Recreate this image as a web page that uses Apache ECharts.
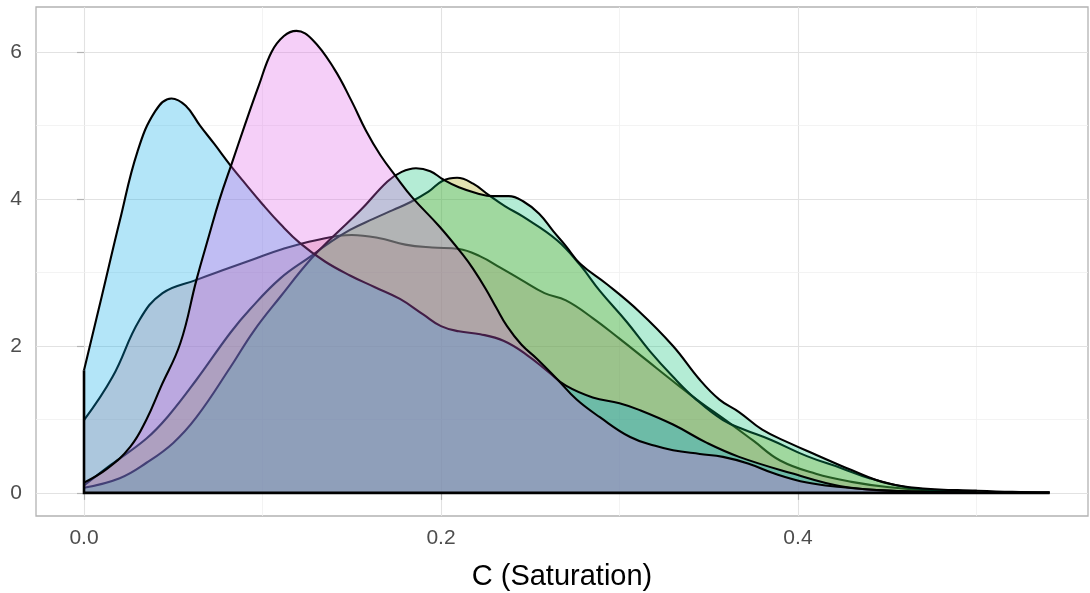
<!DOCTYPE html>
<html>
<head>
<meta charset="utf-8">
<script src="https://cdn.jsdelivr.net/npm/echarts@6.0.0/dist/echarts.min.js"></script>
<style>
  html, body { margin: 0; padding: 0; background: #ffffff; }
  #chart { width: 1090px; height: 593px; }
</style>
</head>
<body>
<div id="chart"></div>
<script>
// Density curves of C (Saturation), one per group, drawn in this order.
const roseX = [0, 0.016, 0.031, 0.044, 0.063, 0.08, 0.095, 0.11, 0.13, 0.15, 0.165, 0.18, 0.195, 0.21, 0.222, 0.233, 0.245, 0.258, 0.27, 0.285, 0.3, 0.315, 0.33, 0.345, 0.36, 0.375, 0.39, 0.41, 0.43, 0.45, 0.475, 0.5];
const roseY = [0.99, 1.58, 2.35, 2.72, 2.9, 3.05, 3.18, 3.31, 3.44, 3.51, 3.47, 3.38, 3.34, 3.32, 3.22, 3.07, 2.9, 2.72, 2.62, 2.38, 2.1, 1.81, 1.52, 1.24, 0.98, 0.71, 0.44, 0.26, 0.15, 0.08, 0.03, 0.01];

const oliveX = [0, 0.015, 0.035, 0.047, 0.063, 0.082, 0.093, 0.11, 0.127, 0.136, 0.149, 0.162, 0.173, 0.183, 0.193, 0.201, 0.209, 0.218, 0.227, 0.236, 0.246, 0.265, 0.278, 0.289, 0.304, 0.317, 0.33, 0.343, 0.358, 0.37, 0.385, 0.405, 0.424, 0.44, 0.46, 0.48, 0.5];
const oliveY = [0.1, 0.38, 0.74, 1.04, 1.54, 2.18, 2.5, 2.92, 3.22, 3.38, 3.58, 3.73, 3.85, 3.96, 4.1, 4.25, 4.29, 4.21, 4.05, 3.9, 3.76, 3.44, 3.1, 2.75, 2.33, 1.93, 1.58, 1.27, 0.99, 0.86, 0.72, 0.5, 0.34, 0.2, 0.08, 0.03, 0.01];

const mintX = [0, 0.02, 0.035, 0.05, 0.063, 0.082, 0.095, 0.11, 0.127, 0.14, 0.155, 0.17, 0.178, 0.186, 0.194, 0.201, 0.21, 0.22, 0.229, 0.238, 0.246, 0.255, 0.263, 0.27, 0.278, 0.293, 0.311, 0.33, 0.345, 0.356, 0.367, 0.38, 0.395, 0.41, 0.43, 0.45, 0.47, 0.5, 0.52, 0.541];
const mintY = [0.07, 0.2, 0.41, 0.68, 1.03, 1.71, 2.2, 2.67, 3.18, 3.5, 3.85, 4.24, 4.37, 4.42, 4.38, 4.27, 4.16, 4.08, 4.04, 4.04, 3.97, 3.8, 3.56, 3.36, 3.12, 2.84, 2.47, 2.0, 1.54, 1.27, 1.1, 0.86, 0.68, 0.52, 0.31, 0.13, 0.06, 0.03, 0.015, 0.008];

const skyX = [0, 0.01, 0.02, 0.03, 0.04, 0.049, 0.057, 0.065, 0.073, 0.082, 0.09, 0.1, 0.11, 0.121, 0.135, 0.149, 0.163, 0.177, 0.19, 0.2, 0.21, 0.222, 0.235, 0.248, 0.26, 0.27, 0.285, 0.3, 0.311, 0.33, 0.349, 0.367, 0.396, 0.424, 0.45, 0.48];
const skyY = [1.67, 2.68, 3.7, 4.65, 5.2, 5.37, 5.27, 5.0, 4.75, 4.46, 4.22, 3.93, 3.66, 3.4, 3.15, 2.96, 2.8, 2.64, 2.43, 2.27, 2.2, 2.16, 2.07, 1.88, 1.65, 1.46, 1.3, 1.22, 1.13, 0.93, 0.68, 0.49, 0.27, 0.09, 0.03, 0.01];

const orchidX = [0, 0.013, 0.026, 0.035, 0.043, 0.054, 0.063, 0.07, 0.076, 0.083, 0.09, 0.098, 0.105, 0.112, 0.119, 0.128, 0.14, 0.15, 0.158, 0.166, 0.175, 0.184, 0.199, 0.212, 0.218, 0.225, 0.231, 0.237, 0.245, 0.254, 0.265, 0.276, 0.289, 0.306, 0.32, 0.33, 0.345, 0.358, 0.372, 0.386, 0.405, 0.424, 0.45, 0.48, 0.51, 0.541];
const orchidY = [0.14, 0.33, 0.63, 1.0, 1.44, 2.04, 2.9, 3.5, 4.0, 4.5, 5.0, 5.55, 6.0, 6.22, 6.29, 6.17, 5.78, 5.33, 4.93, 4.6, 4.3, 4.02, 3.63, 3.25, 3.05, 2.78, 2.52, 2.27, 2.02, 1.82, 1.55, 1.27, 1.03, 0.76, 0.64, 0.58, 0.53, 0.49, 0.4, 0.27, 0.14, 0.08, 0.03, 0.01, 0.005, 0.003];

const groups = [
  { name: 'rose',   xs: roseX,   ys: roseY,   fill: 'rgba(222,115,128,0.3)' },
  { name: 'olive',  xs: oliveX,  ys: oliveY,  fill: 'rgba(162,158,0,0.3)' },
  { name: 'mint',   xs: mintX,   ys: mintY,   fill: 'rgba(5,192,115,0.3)' },
  { name: 'sky',    xs: skyX,    ys: skyY,    fill: 'rgba(2,168,232,0.3)' },
  { name: 'orchid', xs: orchidX, ys: orchidY, fill: 'rgba(222,95,232,0.3)' }
];

// Axis ticks and labels
const xTicks = [0, 0.2, 0.4];
const yTicks = [0, 2, 4, 6];
const xMinorGrid = [0.1, 0.3, 0.5];
const yMinorGrid = [1, 3, 5];
const xRange = [-0.0269, 0.5625];
const yRange = [-0.315, 6.615];

const FONT = "'Liberation Sans', Arial, sans-serif";

function curve(g) {
  return g.xs.map((x, i) => [x, g.ys[i]]);
}

const gridLines = [];
xTicks.forEach(v => gridLines.push({ xAxis: v, lineStyle: { color: '#e2e2e2', width: 1.1, type: 'solid' } }));
xMinorGrid.forEach(v => gridLines.push({ xAxis: v, lineStyle: { color: '#f0f0f0', width: 0.8, type: 'solid' } }));
yTicks.forEach(v => gridLines.push({ yAxis: v, lineStyle: { color: '#e2e2e2', width: 1.1, type: 'solid' } }));
yMinorGrid.forEach(v => gridLines.push({ yAxis: v, lineStyle: { color: '#f0f0f0', width: 0.8, type: 'solid' } }));

const series = [{
  type: 'line',
  data: [],
  z: 0,
  silent: true,
  markLine: {
    z: 0,
    silent: true,
    animation: false,
    symbol: ['none', 'none'],
    label: { show: false },
    emphasis: { disabled: true },
    lineStyle: { type: 'solid' },
    data: gridLines
  }
}];

// each group gets its own layer so a later fill tints the outlines beneath it
groups.forEach((g, i) => {
  series.push({
    type: 'line',
    name: g.name,
    data: curve(g),
    smooth: 0.42,
    showSymbol: false,
    symbol: 'none',
    z: 2 + i,
    silent: true,
    lineStyle: { color: '#000000', width: 2.1, join: 'round' },
    areaStyle: { color: g.fill, origin: 0, opacity: 1 },
    emphasis: { disabled: true }
  });
});

// left edge at x = 0 up to the tallest starting density, and the shared baseline along y = 0
const edgeTop = Math.max(...groups.map(g => g.ys[0]));
series.push({
  type: 'line',
  data: [[0, edgeTop], [0, 0], [0.541, 0]],
  showSymbol: false,
  symbol: 'none',
  z: 10,
  silent: true,
  lineStyle: { color: '#000000', width: 2.6, join: 'miter' }
});

const chart = echarts.init(document.getElementById('chart'), null, { renderer: 'canvas' });
chart.setOption({
  animation: false,
  backgroundColor: '#ffffff',
  grid: {
    left: 36, right: 2, top: 7, bottom: 77,
    outerBoundsMode: 'none',
    containLabel: false,
    show: true, borderColor: '#b3b3b3', borderWidth: 1.3, backgroundColor: 'transparent'
  },
  xAxis: {
    type: 'value',
    min: xRange[0], max: xRange[1],
    name: 'C (Saturation)',
    nameLocation: 'middle',
    nameGap: 46,
    nameTextStyle: { fontFamily: FONT, fontSize: 29, color: '#000000' },
    axisLine: { show: false },
    splitLine: { show: false },
    axisTick: { show: true, customValues: xTicks, length: 7, lineStyle: { color: '#b3b3b3', width: 1.2 } },
    axisLabel: {
      customValues: xTicks, margin: 12,
      fontFamily: FONT, fontSize: 21, color: '#4d4d4d',
      formatter: v => Number(v).toFixed(1)
    }
  },
  yAxis: {
    type: 'value',
    min: yRange[0], max: yRange[1],
    axisLine: { show: false },
    splitLine: { show: false },
    axisTick: { show: true, customValues: yTicks, length: 7, lineStyle: { color: '#b3b3b3', width: 1.2 } },
    axisLabel: {
      customValues: yTicks, margin: 14,
      fontFamily: FONT, fontSize: 21, color: '#4d4d4d',
      formatter: v => String(Math.round(v))
    }
  },
  series: series
});
</script>
</body>
</html>
